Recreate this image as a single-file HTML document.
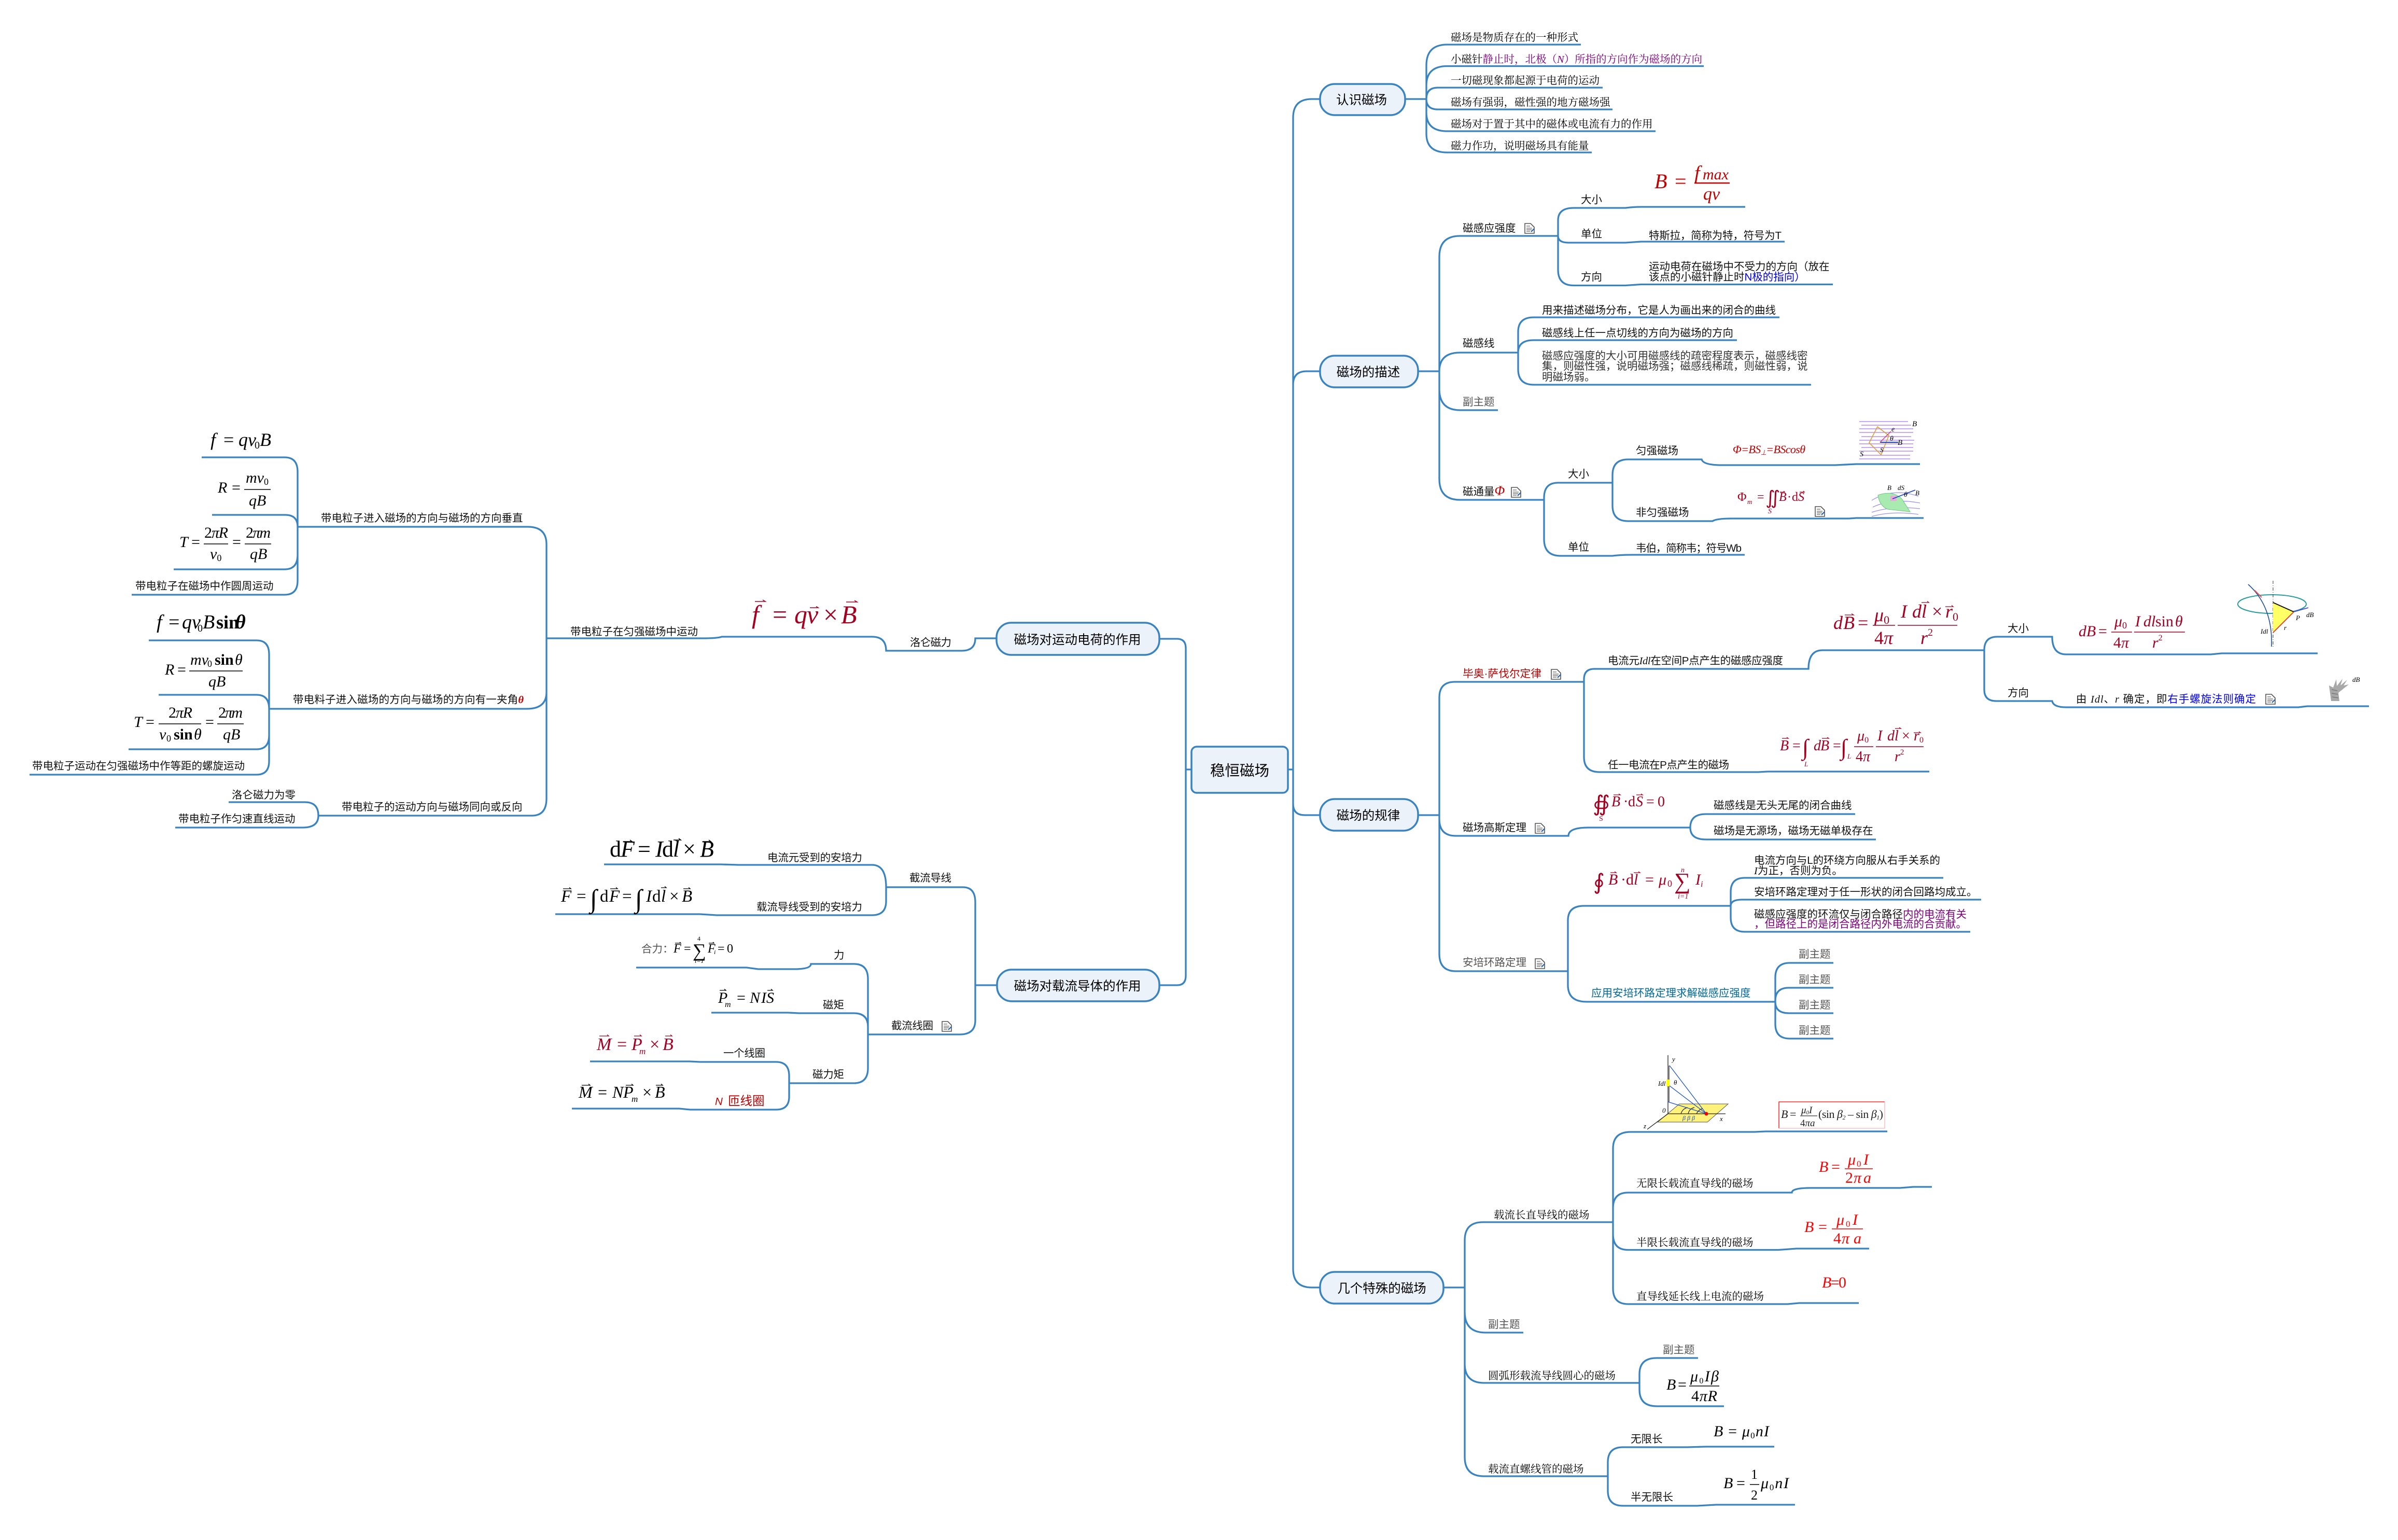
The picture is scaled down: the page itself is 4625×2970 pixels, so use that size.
<!DOCTYPE html>
<html lang="zh"><head><meta charset="utf-8"><title>稳恒磁场</title>
<style>
html,body{margin:0;padding:0;background:#fff}
svg{display:block}
.l{fill:none;stroke:#3a83c1;stroke-width:3.3}
.n{fill:#ebf2fa;stroke:#3a83c1;stroke-width:3.5}
text{font-family:"Liberation Sans","Noto Sans CJK SC",sans-serif;font-size:20.5px;fill:#111;transform:translateY(2px)}
.r{font-family:"Liberation Serif","Noto Serif CJK SC",serif;fill:#000}
.t{font-size:24.5px;fill:#000;text-anchor:middle;transform:translateY(1px)}
.g{fill:#555}
.f{font-family:"Liberation Serif",serif;font-style:italic;fill:#000;transform:none}
.c{fill:#a50021}.d{fill:#c00000}.e{fill:#f00}
.a{fill:none;stroke-width:1.3;stroke:#000}
.ac{fill:none;stroke-width:1.3;stroke:#a50021}
.fl{stroke:#000;stroke-width:1.5}.flc{stroke:#a50021;stroke-width:1.5}.fle{stroke:#f00;stroke-width:1.5}
</style></head><body>
<svg xmlns="http://www.w3.org/2000/svg" width="4625" height="2970" viewBox="0 0 4625 2970">
<defs>
<g id="ic"><path d="M1,1H12L19,8V20H1Z" fill="#fff" stroke="#555" stroke-width="1.6"/><path d="M4,6H11M4,10H15M4,13H14M4,16H11" stroke="#666" stroke-width="1.2"/><path d="M13,17L19,11" stroke="#2a5fb8" stroke-width="2.2"/></g>
</defs>
<rect width="4625" height="2970" fill="#fff"/>

<!-- connectors -->
<g class="l">
<path d="M2484,1484H2494M2546,191H2530Q2494,191 2494,227V2447Q2494,2483 2530,2483H2546M2494,742Q2494,716 2520,716H2546M2494,1550Q2494,1572 2516,1572H2546"/>
<path d="M2236,1232H2270Q2287,1232 2287,1250V1882Q2287,1900 2270,1900H2236M2298,1484H2287"/>
<path d="M2710,191H2751M2751,191V126Q2751,86 2791,86H3049M2751,191V165Q2751,127.5 2791,127.5H3286M2751,191Q2751,169 2773,169H3091M2751,191Q2751,211 2773,211H3110M2751,191V217Q2751,253 2791,253H3193M2751,191V258Q2751,294 2791,294H3070"/>
<path d="M2735,716H2776M2776,716V495Q2776,455 2816,455H3005M2776,716Q2776,680 2816,680H2928M2776,716V750Q2776,791 2816,791H2889M2776,716V924Q2776,964 2816,964H2978"/>
<path d="M3005,455V425Q3005,401 3035,401H3135Q3150,399 3165,399H3366M3005,455Q3005,468 3025,468H3135L3165,466H3442M3005,455V520Q3005,550.5 3035,550.5H3135L3165,548.5H3535"/>
<path d="M2928,680V640Q2928,612 2958,612H3432M2928,680Q2928,656 2958,656H3350M2928,680V712Q2928,742 2958,742H3493"/>
<path d="M2978,964V960Q2978,931 3005,931H3110M2978,964V1040Q2978,1072 3010,1072H3110Q3125,1070 3149,1070H3365"/>
<path d="M3110,931V916Q3110,886 3140,886H3282Q3285,897 3321,897H3540L3580,895H3703M3110,931V975Q3110,1005 3140,1005H3303Q3310,1000 3340,1000H3566L3580,999H3710"/>
<path d="M2735,1572H2776M2776,1572V1345Q2776,1315 2806,1315H3055M2776,1572V1580Q2776,1612 2808,1612H3025Q3025,1596 3063,1596H3260M2776,1572V1840Q2776,1873 2808,1873H3024"/>
<path d="M3055,1315V1310Q3055,1290 3075,1290H3488Q3488,1254 3515,1254H3827M3055,1315V1460Q3055,1489 3085,1489H3391L3410,1488H3721"/>
<path d="M3827,1254Q3827,1228 3852,1228H3958Q3958,1262 3985,1262H4264L4285,1260H4470M3827,1254V1330Q3827,1352 3850,1352H3958Q3960,1364 3985,1364H4433L4450,1362H4569"/>
<path d="M3260,1596Q3260,1570 3290,1570H3578M3260,1596Q3260,1619 3290,1619H3618"/>
<path d="M3024,1873V1775Q3024,1747 3055,1747H3337M3024,1873V1900Q3024,1932 3060,1932H3424"/>
<path d="M3338,1747V1720Q3338,1693 3365,1693H3748M3338,1747Q3338,1735 3360,1735H3821M3338,1747V1770Q3338,1797 3365,1797H3800"/>
<path d="M3424,1932V1885Q3424,1857 3452,1857H3536M3424,1932V1930Q3424,1905 3450,1905H3536M3424,1932Q3424,1954 3450,1954H3536M3424,1932V1975Q3424,2003 3452,2003H3536"/>
<path d="M2784,2483H2825M2825,2483V2392Q2825,2357 2860,2357H3111M2825,2483V2530Q2825,2570 2865,2570H2938M2825,2483V2630Q2825,2667 2862,2667H3162M2825,2483V2810Q2825,2847 2862,2847H3101"/>
<path d="M3111,2357V2215Q3111,2183 3145,2183H3384L3405,2182H3640M3111,2357V2330Q3111,2300 3140,2300H3456Q3456,2291 3493,2291H3665L3690,2289H3726M3111,2357V2380Q3111,2410.5 3140,2410.5H3430L3465,2408H3605M3111,2357V2485Q3111,2515 3140,2515H3448L3470,2513H3585"/>
<path d="M3162,2667V2650Q3162,2619 3195,2619H3275M3162,2667V2680Q3162,2712 3195,2712H3325"/>
<path d="M3101,2847V2820Q3101,2791 3130,2791H3254L3290,2790H3422M3101,2847V2875Q3101,2904 3130,2904H3273L3310,2902H3462"/>
<path d="M1922,1231H1881Q1881,1255 1855,1255H1709Q1709,1228 1682,1228H1392Q1385,1231 1354,1231H1054"/>
<path d="M1054,1231V1050Q1054,1016 1018,1016H574M1054,1231V1335Q1054,1367 1016,1367H520M1054,1231V1540Q1054,1573 1026,1573H614"/>
<path d="M574,1016V910Q574,882 549,882H389M574,1016Q574,993 550,993H409M574,1016V1070Q574,1098 549,1098H335M574,1016V1120Q574,1147 549,1147H254"/>
<path d="M519,1367V1262Q519,1235 495,1235H287M519,1367Q519,1340 495,1340H306M519,1367V1418Q519,1445 495,1445H248M519,1367V1468Q519,1494 495,1494H57"/>
<path d="M614,1573Q614,1547 588,1547H441M614,1573Q614,1596 584,1596H338"/>
<path d="M1923,1900H1881M1881,1900V1740Q1881,1711 1857,1711H1709M1881,1900V1968Q1881,1995 1851,1995H1674"/>
<path d="M1709,1711Q1709,1668 1682,1668H1424L1390,1667H1165M1709,1711V1738Q1709,1765 1682,1765H1382L1350,1763H1071"/>
<path d="M1674,1995V1888Q1674,1859 1647,1859H1564Q1564,1869 1532,1869H1462L1440,1866H1227M1674,1995V1980Q1674,1954 1647,1954H1541L1520,1953H1372M1674,1995V2060Q1674,2089 1647,2089H1522"/>
<path d="M1522,2089V2075Q1522,2048 1497,2048H1350L1330,2047H1138M1522,2089V2115Q1522,2140 1497,2140H1331L1310,2138H1103"/>
</g>

<!-- nodes -->
<rect class="n" x="2298" y="1440" width="186" height="89" rx="10"/>
<rect class="n" x="2546" y="162" width="164" height="60" rx="28"/>
<rect class="n" x="2546" y="686" width="189" height="61" rx="28"/>
<rect class="n" x="2546" y="1541" width="189" height="61" rx="28"/>
<rect class="n" x="2546" y="2453" width="238" height="61" rx="28"/>
<rect class="n" x="1922" y="1201" width="314" height="62" rx="28"/>
<rect class="n" x="1923" y="1870" width="313" height="61" rx="28"/>
<text class="t" x="2391" y="1495" style="font-size:28.5px">稳恒磁场</text>
<text class="t" x="2626" y="200">认识磁场</text>
<text class="t" x="2639" y="725">磁场的描述</text>
<text class="t" x="2639" y="1580">磁场的规律</text>
<text class="t" x="2665" y="2492">几个特殊的磁场</text>
<text class="t" x="2078" y="1241">磁场对运动电荷的作用</text>
<text class="t" x="2078" y="1909">磁场对载流导体的作用</text>

<!-- 认识磁场 leaves -->
<text class="r" x="2798" y="77">磁场是物质存在的一种形式</text>
<text class="r" x="2798" y="119">小磁针<tspan fill="#800080">静止时，北极（</tspan><tspan fill="#800080" font-style="italic">N</tspan><tspan fill="#800080">）所指的方向作为磁场的方向</tspan></text>
<text class="r" x="2798" y="160">一切磁现象都起源于电荷的运动</text>
<text class="r" x="2798" y="202">磁场有强弱，磁性强的地方磁场强</text>
<text class="r" x="2798" y="244">磁场对于置于其中的磁体或电流有力的作用</text>
<text class="r" x="2798" y="286">磁力作功，说明磁场具有能量</text>

<!-- 描述 -->
<text x="2821" y="445">磁感应强度</text><use href="#ic" x="2940" y="430"/>
<text x="3049" y="390">大小</text><text x="3049" y="456">单位</text><text x="3049" y="539">方向</text>
<text x="3180" y="459" textLength="256">特斯拉，简称为特，符号为T</text>
<text x="3180" y="519">运动电荷在磁场中不受力的方向（放在</text>
<text x="3180" y="539">该点的小磁针静止时<tspan fill="#0000ff">N极的指向）</tspan></text>
<text class="f d" x="3191" y="363" style="font-size:40px">B<tspan x="3230" font-style="normal">=</tspan></text>
<text class="f d" x="3268" y="346" style="font-size:38px">f<tspan x="3284" font-size="30">max</tspan></text>
<text class="f d" x="3285" y="385" style="font-size:34px">qv</text>
<path d="M3268,353H3336" stroke="#c00000" stroke-width="2.5"/>
<text x="2821" y="667">磁感线</text>
<text x="2974" y="603">用来描述磁场分布，它是人为画出来的闭合的曲线</text>
<text x="2974" y="647">磁感线上任一点切线的方向为磁场的方向</text>
<text x="2974" y="691" style="fill:#333">磁感应强度的大小可用磁感线的疏密程度表示，磁感线密</text>
<text x="2974" y="711" style="fill:#333">集，则磁性强，说明磁场强；磁感线稀疏，则磁性弱，说</text>
<text x="2974" y="732" style="fill:#333">明磁场弱。</text>
<text class="g" x="2821" y="780">副主题</text>
<text x="2821" y="953">磁通量<tspan class="d" font-style="italic" font-family="Liberation Serif" font-size="26">Φ</tspan></text><use href="#ic" x="2914" y="939"/>
<text x="3024" y="919">大小</text><text x="3024" y="1060">单位</text>
<text x="3155" y="874">匀强磁场</text><text x="3155" y="993">非匀强磁场</text>
<text x="3155" y="1062" textLength="204">韦伯，简称韦；符号Wb</text>
<text class="f d" x="3342" y="874" style="font-size:22px" textLength="140">Φ=BS<tspan font-size="13" dy="3">⊥</tspan><tspan dy="-3">=BScosθ</tspan></text>
<text class="f c" x="3351" y="966" style="font-size:24px;font-style:normal">Φ<tspan x="3370" dy="6" font-size="13" font-style="italic">m</tspan><tspan x="3389" dy="-6">=</tspan></text>
<text class="f c" x="3405" y="972" style="font-size:36px;font-style:normal">∬</text>
<text class="f c" x="3431" y="966" style="font-size:24px">B<tspan x="3447" font-style="normal">·</tspan><tspan x="3456" font-style="normal">d</tspan><tspan x="3468">S</tspan></text>
<path class="ac" d="M3433,949h9l-2,-2M3471,949h9l-2,-2"/>
<text class="f c" x="3410" y="990" style="font-size:14px">S</text>
<use href="#ic" x="3500" y="976"/>
<!-- image uniform -->
<g stroke="#b48cff" stroke-width="1.6" fill="none"><path d="M3586,813H3680M3590,820H3686M3586,827H3690M3586,834H3690M3590,842H3686M3586,849H3692M3586,856H3690M3590,863H3690M3586,870H3690M3590,878H3684M3586,885H3684"/></g>
<path d="M3621,823L3643,840L3628,877L3605,854Z" fill="none" stroke="#e09a20" stroke-width="1.5"/>
<path d="M3626,853H3661" stroke="#1a3fd0" stroke-width="2"/><path d="M3626,853L3647,832" stroke="#e0306a" stroke-width="1.3"/>
<text class="f" x="3688" y="822" style="font-size:15px">B</text><text class="f" x="3648" y="832" style="font-size:14px">e</text><text class="f" x="3645" y="850" style="font-size:14px">θ</text><text class="f" x="3660" y="858" style="font-size:15px">B</text><text class="f" x="3626" y="872" style="font-size:13px">S</text><text class="f" x="3587" y="880" style="font-size:14px">S</text>
<!-- image curved -->
<g fill="none" stroke="#9a90f0" stroke-width="1.3"><path d="M3610,965Q3650,940 3700,957M3612,978Q3650,960 3703,970M3610,988Q3650,975 3703,981M3610,996Q3650,985 3700,992"/></g>
<path d="M3622,955Q3650,945 3668,962L3684,987L3640,982Q3625,975 3622,955Z" fill="#a8eab0" stroke="#6cc97c"/>
<rect x="3646" y="956" width="12" height="10" fill="#e8a8d8"/>
<path d="M3650,962L3694,945" stroke="#1a3fd0" stroke-width="1.6"/>
<text class="f" x="3640" y="945" style="font-size:13px">B</text><text class="f" x="3660" y="945" style="font-size:13px">dS</text><text class="f" x="3672" y="958" style="font-size:14px">θ</text><text class="f" x="3694" y="955" style="font-size:13px">B</text>

<!-- 规律 -->
<text class="d" x="2821" y="1304" textLength="152" lengthAdjust="spacingAndGlyphs">毕奥·萨伐尔定律</text><use href="#ic" x="2991" y="1290"/>
<text x="3101" y="1279" textLength="338" lengthAdjust="spacing">电流元<tspan font-style="italic" font-family="Liberation Serif">Idl</tspan>在空间P点产生的磁感应强度</text>
<text x="3101" y="1480" textLength="234">任一电流在P点产生的磁场</text>
<text x="3872" y="1217">大小</text><text x="3872" y="1341">方向</text>
<text x="4004" y="1353" textLength="347">由 <tspan font-style="italic" font-family="Liberation Serif">Idl</tspan>、<tspan font-style="italic" font-family="Liberation Serif">r</tspan> 确定，即<tspan fill="#0000ff">右手螺旋法则确定</tspan></text><use href="#ic" x="4369" y="1338"/>
<!-- dB big -->
<text class="f c" x="3536" y="1213" style="font-size:36px">d<tspan x="3555">B</tspan><tspan x="3583" font-style="normal">=</tspan></text>
<path class="ac" d="M3558,1186h17l-4,-2.5M3706,1162h14l-3,-2.5M3752,1170h15l-3,-2.5"/>
<path class="flc" d="M3612,1206H3655M3660,1206H3775"/>
<text class="f c" x="3615" y="1198" style="font-size:36px">μ<tspan font-size="22" dy="5" font-style="normal">0</tspan></text>
<text class="f c" x="3666" y="1191" style="font-size:36px">I<tspan x="3688">d</tspan><tspan x="3706">l</tspan><tspan x="3726" font-style="normal">×</tspan><tspan x="3752">r</tspan><tspan x="3766" font-size="22" dy="6" font-style="normal">0</tspan></text>
<text class="f c" x="3615" y="1242" style="font-size:36px"><tspan font-style="normal">4</tspan>π</text><text class="f c" x="3704" y="1242" style="font-size:36px">r<tspan font-size="20" dy="-16" font-style="normal">2</tspan></text>
<!-- dB small -->
<text class="f c" x="4009" y="1227" style="font-size:30px">d<tspan x="4024">B</tspan><tspan x="4047" font-style="normal">=</tspan></text>
<path class="flc" d="M4072,1219H4112M4116,1219H4214"/>
<text class="f c" x="4078" y="1208" style="font-size:30px">μ<tspan font-size="18" dy="4" font-style="normal">0</tspan></text>
<text class="f c" x="4118" y="1208" style="font-size:30px">I<tspan x="4134">d</tspan><tspan x="4149">l</tspan><tspan x="4157" font-style="normal">sin</tspan><tspan x="4195">θ</tspan></text>
<text class="f c" x="4076" y="1249" style="font-size:30px"><tspan font-style="normal">4</tspan>π</text><text class="f c" x="4151" y="1249" style="font-size:30px">r<tspan font-size="16" dy="-14" font-style="normal">2</tspan></text>
<!-- image biot -->
<ellipse cx="4382" cy="1165" rx="66" ry="18" fill="none" stroke="#2a9d9d" stroke-width="2"/>
<path d="M4384,1120V1250" stroke="#333" stroke-dasharray="6 3 1 3" stroke-width="1"/>
<path d="M4384,1162L4424,1180L4384,1220Z" fill="#ff6"/>
<path d="M4384,1162L4424,1180" stroke="#111" stroke-width="2"/><path d="M4424,1180L4384,1220" stroke="#e03030" stroke-width="1.6"/>
<path d="M4336,1127Q4384,1170 4381,1247" fill="none" stroke="#1d4f9c" stroke-width="1.6"/>
<path d="M4348,1138L4362,1152" stroke="#f05050" stroke-width="2"/>
<path d="M4424,1180L4452,1172" stroke="#3a3ae0" stroke-width="1.6"/>
<text class="f" x="4448" y="1190" style="font-size:13px">dB</text><text class="f" x="4360" y="1222" style="font-size:13px">Idl</text><text class="f" x="4405" y="1215" style="font-size:13px">r</text><text class="f" x="4428" y="1196" style="font-size:13px">P</text>
<!-- hand -->
<path d="M4492,1322L4496,1352H4512L4510,1336L4530,1320L4520,1322L4527,1311L4514,1322L4518,1309L4507,1323L4506,1310L4500,1326Z" fill="#a8a8a8"/>
<path d="M4497,1330L4508,1332M4497,1337L4509,1339M4498,1344L4510,1346" stroke="#666" stroke-width="1"/>
<text class="f" x="4537" y="1315" style="font-size:13px">dB</text>
<!-- integral -->
<text class="f c" x="3433" y="1447" style="font-size:28px">B<tspan x="3457" font-style="normal">=</tspan></text>
<text class="f c" x="3476" y="1456" style="font-size:44px;font-style:normal">∫</text>
<text class="f c" x="3498" y="1447" style="font-size:28px">d<tspan x="3511">B</tspan><tspan x="3535" font-style="normal">=</tspan></text>
<text class="f c" x="3480" y="1478" style="font-size:13px">L</text>
<text class="f c" x="3550" y="1456" style="font-size:44px;font-style:normal">∫</text><text class="f c" x="3563" y="1463" style="font-size:13px">L</text>
<path class="ac" d="M3437,1424h12l-3,-2M3514,1424h13l-3,-2M3655,1405h11l-3,-2M3691,1413h13l-3,-2"/>
<path class="flc" d="M3576,1440H3613M3618,1440H3710"/>
<text class="f c" x="3582" y="1428" style="font-size:28px">μ<tspan font-size="16" dy="4" font-style="normal">0</tspan></text>
<text class="f c" x="3621" y="1428" style="font-size:28px">I<tspan x="3640">d</tspan><tspan x="3654">l</tspan><tspan x="3668" font-style="normal">×</tspan><tspan x="3691">r</tspan><tspan x="3702" font-size="16" dy="4" font-style="normal">0</tspan></text>
<text class="f c" x="3579" y="1468" style="font-size:28px"><tspan font-style="normal">4</tspan>π</text><text class="f c" x="3654" y="1468" style="font-size:28px">r<tspan font-size="15" dy="-13" font-style="normal">2</tspan></text>
<text x="2821" y="1601">磁场高斯定理</text><use href="#ic" x="2960" y="1587"/>
<text x="3305" y="1558">磁感线是无头无尾的闭合曲线</text>
<text x="3305" y="1607">磁场是无源场，磁场无磁单极存在</text>
<text class="f c" x="3072" y="1564" style="font-size:42px;font-style:normal">∯</text>
<text class="f c" x="3108" y="1555" style="font-size:28px">B<tspan x="3131" font-style="normal">·</tspan><tspan x="3140" font-style="normal">d</tspan><tspan x="3155">S</tspan><tspan x="3175" font-style="normal">=</tspan><tspan x="3197" font-style="normal">0</tspan></text>
<path class="ac" d="M3112,1533h13l-3,-2M3156,1533h12l-3,-2"/>
<text class="f c" x="3084" y="1583" style="font-size:14px;font-style:normal">S</text>
<text class="g" x="2821" y="1861">安培环路定理</text><use href="#ic" x="2960" y="1848"/>
<text x="3383" y="1664" textLength="359">电流方向与L的环绕方向服从右手关系的</text>
<text x="3383" y="1684"><tspan font-style="italic" font-family="Liberation Serif">I</tspan>为正，否则为负。</text>
<text x="3383" y="1725">安培环路定理对于任一形状的闭合回路均成立。</text>
<text x="3383" y="1768">磁感应强度的环流仅与闭合路径<tspan fill="#800080">内的电流有关</tspan></text>
<text x="3383" y="1787" style="fill:#800080">，但路径上的是闭合路径内外电流的合贡献。</text>
<text class="f c" x="3073" y="1715" style="font-size:42px;font-style:normal">∮</text>
<text class="f c" x="3102" y="1706" style="font-size:30px">B<tspan x="3126" font-style="normal">·</tspan><tspan x="3136" font-style="normal">d</tspan><tspan x="3151">l</tspan><tspan x="3173" font-style="normal">=</tspan><tspan x="3199">μ</tspan><tspan x="3216" font-size="18" dy="4" font-style="normal">0</tspan></text>
<path class="ac" d="M3106,1683h11l-3,-2M3151,1683h12l-3,-2"/>
<text class="f c" x="3229" y="1714" style="font-size:44px;font-style:normal">∑</text>
<text class="f c" x="3270" y="1706" style="font-size:30px">I<tspan font-size="16" dy="4">i</tspan></text>
<text class="f c" x="3242" y="1682" style="font-size:14px">n</text><text class="f c" x="3236" y="1733" style="font-size:14px">i=1</text>
<text x="3069" y="1920" style="fill:#006a9e">应用安培环路定理求解磁感应强度</text>
<text class="g" x="3469" y="1845">副主题</text><text class="g" x="3469" y="1894">副主题</text><text class="g" x="3469" y="1943">副主题</text><text class="g" x="3469" y="1992">副主题</text>

<!-- 几个特殊的磁场 -->
<text class="r" x="2881" y="2348">载流长直导线的磁场</text>
<text class="r" x="3156" y="2287">无限长载流直导线的磁场</text>
<text class="r" x="3156" y="2401">半限长载流直导线的磁场</text>
<text class="r" x="3156" y="2505">直导线延长线上电流的磁场</text>
<text class="g" x="2870" y="2559">副主题</text>
<text class="r" x="2870" y="2658">圆弧形载流导线圆心的磁场</text>
<text class="g" x="3207" y="2608">副主题</text>
<text class="r" x="2870" y="2838">载流直螺线管的磁场</text>
<text x="3145" y="2780">无限长</text><text x="3145" y="2892">半无限长</text>
<!-- image straight wire -->
<path d="M3239,2129H3333L3293,2164H3197Z" fill="#fff27a" stroke="#555" stroke-width="1"/>
<path d="M3217,2035V2148M3217,2148H3328M3217,2148L3177,2178" stroke="#222" stroke-width="1.3" fill="none"/>
<path d="M3242,2148Q3245,2138 3255,2136M3256,2148Q3258,2138 3268,2136M3272,2148Q3276,2140 3284,2138" fill="none" stroke="#222" stroke-width="1.2"/>
<rect x="3216" y="2055" width="4" height="70" fill="#777"/><rect x="3214" y="2082" width="6" height="13" fill="#ff0"/>
<path d="M3220,2055L3291,2148M3220,2094L3291,2148M3217,2125L3291,2148" stroke="#1a50d0" stroke-width="1.3" fill="none"/>
<circle cx="3291" cy="2148" r="3.5" fill="#e00"/>
<text class="f" x="3225" y="2047" style="font-size:13px">y</text><text class="f" x="3317" y="2162" style="font-size:13px">x</text><text class="f" x="3170" y="2176" style="font-size:13px">z</text><text class="f" x="3206" y="2146" style="font-size:13px">0</text><text class="f" x="3198" y="2094" style="font-size:13px">Idl</text><text class="f" x="3228" y="2092" style="font-size:13px">θ</text><text class="f" x="3245" y="2160" style="font-size:12px;fill:#1a50d0">β β β</text>
<!-- box -->
<path d="M3431,2176V2125H3635" fill="none" stroke="#f00" stroke-width="1.3"/><path d="M3635,2125V2176H3431" fill="none" stroke="#ffb0b8" stroke-width="1.3"/>
<text class="f" x="3435" y="2156" style="font-size:22px;fill:#222">B<tspan x="3452" font-style="normal">=</tspan></text>
<path d="M3472,2152H3505" stroke="#333" stroke-width="1.2"/>
<text class="f" x="3474" y="2147" style="font-size:19px;fill:#222">μ<tspan font-size="11" dy="2">0</tspan><tspan dy="-2">I</tspan></text>
<text class="f" x="3472" y="2172" style="font-size:19px;fill:#222"><tspan font-style="normal">4</tspan>πa</text>
<text class="f" x="3507" y="2156" style="font-size:22px;fill:#222" textLength="125"><tspan font-style="normal">(sin</tspan> β<tspan font-size="12" dy="3">2</tspan><tspan font-style="normal" dy="-3"> – sin</tspan> β<tspan font-size="12" dy="3">1</tspan><tspan font-style="normal" dy="-3">)</tspan></text>
<!-- red formulas -->
<text class="f e" x="3508" y="2260" style="font-size:30px">B<tspan x="3532" font-style="normal">=</tspan></text>
<path class="fle" d="M3558,2254H3612"/>
<text class="f e" x="3564" y="2246" style="font-size:30px">μ<tspan x="3581" font-size="17" dy="4" font-style="normal">0</tspan><tspan x="3594" dy="-4">I</tspan></text>
<text class="f e" x="3559" y="2281" style="font-size:30px"><tspan font-style="normal">2</tspan><tspan x="3575">π</tspan><tspan x="3594">a</tspan></text>
<text class="f e" x="3480" y="2376" style="font-size:30px">B<tspan x="3507" font-style="normal">=</tspan></text>
<path class="fle" d="M3533,2370H3593"/>
<text class="f e" x="3542" y="2362" style="font-size:30px">μ<tspan x="3560" font-size="17" dy="4" font-style="normal">0</tspan><tspan x="3573" dy="-4">I</tspan></text>
<text class="f e" x="3536" y="2398" style="font-size:30px"><tspan font-style="normal">4</tspan><tspan x="3552">π</tspan><tspan x="3575">a</tspan></text>
<text class="f e" x="3514" y="2483" style="font-size:30px" textLength="47">B<tspan font-style="normal">=0</tspan></text>
<!-- circular arc -->
<text class="f" x="3214" y="2680" style="font-size:30px">B<tspan x="3236" font-style="normal">=</tspan></text>
<path class="fl" d="M3258,2673H3316"/>
<text class="f" x="3260" y="2664" style="font-size:30px" textLength="55">μ<tspan font-size="16" dy="4" font-style="normal">0</tspan><tspan dy="-4">Iβ</tspan></text>
<text class="f" x="3262" y="2702" style="font-size:30px" textLength="50"><tspan font-style="normal">4</tspan>πR</text>
<text class="f" x="3305" y="2770" style="font-size:30px" textLength="107">B <tspan font-style="normal">=</tspan> μ<tspan font-size="17" dy="4" font-style="normal">0</tspan><tspan dy="-4">nI</tspan></text>
<text class="f" x="3324" y="2870" style="font-size:30px">B<tspan x="3349" font-style="normal">=</tspan></text>
<path class="fl" d="M3375,2863H3393"/>
<text class="f" x="3377" y="2852" style="font-size:26px;font-style:normal">1</text><text class="f" x="3377" y="2892" style="font-size:26px;font-style:normal">2</text>
<text class="f" x="3396" y="2870" style="font-size:30px" textLength="54">μ<tspan font-size="17" dy="4" font-style="normal">0</tspan><tspan dy="-4">nI</tspan></text>

<!-- left: 运动电荷 -->
<text x="1755" y="1244" textLength="80">洛仑磁力</text>
<text x="1100" y="1223" textLength="246">带电粒子在匀强磁场中运动</text>
<text class="f c" x="1450" y="1202" style="font-size:50px">f<tspan x="1490" font-style="normal">=</tspan><tspan x="1532">q</tspan><tspan x="1556">v</tspan><tspan x="1588" font-style="normal">×</tspan><tspan x="1622">B</tspan></text>
<path class="ac" style="stroke-width:1.6" d="M1456,1160h20l-5,-3M1562,1172h16l-4,-2.5M1632,1161h21l-5,-3"/>
<text x="619" y="1004">带电粒子进入磁场的方向与磁场的方向垂直</text>
<text x="261" y="1135">带电粒子在磁场中作圆周运动</text>
<text class="f" x="406" y="860" style="font-size:36px">f<tspan x="431" font-style="normal">=</tspan><tspan x="460">q</tspan><tspan x="478">v</tspan><tspan x="491" font-size="20" dy="5" font-style="normal">0</tspan><tspan x="501" dy="-5">B</tspan></text>
<text class="f" x="420" y="950" style="font-size:30px">R<tspan x="447" font-style="normal">=</tspan></text>
<path class="fl" d="M471,944H522"/>
<text class="f" x="474" y="931" style="font-size:30px">mv<tspan font-size="18" dy="4" font-style="normal">0</tspan></text>
<text class="f" x="480" y="975" style="font-size:30px">qB</text>
<text class="f" x="346" y="1055" style="font-size:30px">T<tspan x="369" font-style="normal">=</tspan></text>
<path class="fl" d="M393,1049H440M472,1049H523"/>
<text class="f" x="394" y="1037" style="font-size:30px" textLength="46"><tspan font-style="normal">2</tspan>πR</text>
<text class="f" x="405" y="1078" style="font-size:30px">v<tspan font-size="18" dy="4" font-style="normal">0</tspan></text>
<text class="f" x="448" y="1055" style="font-size:30px;font-style:normal">=</text>
<text class="f" x="474" y="1037" style="font-size:30px" textLength="48"><tspan font-style="normal">2</tspan>πm</text>
<text class="f" x="482" y="1078" style="font-size:30px">qB</text>
<text x="565" y="1354" textLength="445">带电料子进入磁场的方向与磁场的方向有一夹角<tspan class="d" font-style="italic" font-weight="bold" font-family="Liberation Serif">θ</tspan></text>
<text x="62" y="1482">带电粒子运动在匀强磁场中作等距的螺旋运动</text>
<text class="f" x="302" y="1212" style="font-size:38px">f<tspan x="325" font-style="normal">=</tspan><tspan x="351">q</tspan><tspan x="370">v</tspan><tspan x="381" font-size="20" dy="6" font-style="normal">0</tspan><tspan x="391" dy="-6">B</tspan><tspan x="417" font-weight="bold" font-style="normal" font-size="36">sin</tspan><tspan x="454" font-weight="bold">θ</tspan></text>
<text class="f" x="318" y="1301" style="font-size:30px">R<tspan x="342" font-style="normal">=</tspan></text>
<path class="fl" d="M365,1294H468"/>
<text class="f" x="367" y="1282" style="font-size:30px">mv<tspan x="400" font-size="18" dy="4" font-style="normal">0</tspan><tspan x="414" dy="-4" font-style="normal" font-weight="bold">sin</tspan><tspan x="453">θ</tspan></text>
<text class="f" x="402" y="1324" style="font-size:30px">qB</text>
<text class="f" x="258" y="1402" style="font-size:30px">T<tspan x="281" font-style="normal">=</tspan></text>
<path class="fl" d="M306,1396H388M419,1396H470"/>
<text class="f" x="325" y="1384" style="font-size:30px" textLength="46"><tspan font-style="normal">2</tspan>πR</text>
<text class="f" x="307" y="1426" style="font-size:30px">v<tspan x="321" font-size="18" dy="4" font-style="normal">0</tspan><tspan x="335" dy="-4" font-style="normal" font-weight="bold">sin</tspan><tspan x="374">θ</tspan></text>
<text class="f" x="396" y="1402" style="font-size:30px;font-style:normal">=</text>
<text class="f" x="421" y="1384" style="font-size:30px" textLength="47"><tspan font-style="normal">2</tspan>πm</text>
<text class="f" x="430" y="1426" style="font-size:30px">qB</text>
<text x="447" y="1538" style="fill:#111">洛仑磁力为零</text>
<text x="344" y="1584">带电粒子作匀速直线运动</text>
<text x="659" y="1561">带电粒子的运动方向与磁场同向或反向</text>

<!-- left: 载流导体 -->
<text x="1754" y="1698" textLength="81">截流导线</text>
<text x="1480" y="1659" textLength="183">电流元受到的安培力</text>
<text x="1459" y="1754" textLength="204">载流导线受到的安培力</text>
<text class="f" x="1176" y="1652" style="font-size:44px"><tspan font-style="normal">d</tspan><tspan x="1197">F</tspan><tspan x="1230" font-style="normal">=</tspan><tspan x="1264">I</tspan><tspan x="1277" font-style="normal">d</tspan><tspan x="1298">l</tspan><tspan x="1317" font-style="normal">×</tspan><tspan x="1350">B</tspan></text>
<path class="a" style="stroke-width:1.5" d="M1202,1623h17l-4,-3M1299,1620h14l-4,-3M1355,1623h16l-4,-3"/>
<text class="f" x="1082" y="1739" style="font-size:33px">F<tspan x="1112" font-style="normal">=</tspan></text>
<text class="f" x="1138" y="1750" style="font-size:50px;font-style:normal">∫</text>
<text class="f" x="1157" y="1739" style="font-size:33px"><tspan font-style="normal">d</tspan><tspan x="1175">F</tspan><tspan x="1200" font-style="normal">=</tspan></text>
<text class="f" x="1225" y="1750" style="font-size:50px;font-style:normal">∫</text>
<text class="f" x="1246" y="1739" style="font-size:33px">I<tspan x="1258" font-style="normal">d</tspan><tspan x="1275">l</tspan><tspan x="1291" font-style="normal">×</tspan><tspan x="1315">B</tspan></text>
<path class="a" d="M1086,1714h15l-3,-2.5M1177,1714h14l-3,-2.5M1275,1712h10l-3,-2.5M1318,1714h13l-3,-2.5"/>
<text x="1719" y="1983" textLength="81">截流线圈</text><use href="#ic" x="1816" y="1969"/>
<text x="1608" y="1847">力</text>
<text class="g" x="1237" y="1835">合力：</text>
<text class="f" x="1299" y="1837" style="font-size:24px">F<tspan x="1319" font-style="normal">=</tspan></text>
<text class="f" x="1336" y="1845" style="font-size:36px;font-style:normal">∑</text>
<text class="f" x="1365" y="1837" style="font-size:24px">F<tspan x="1377" font-size="12" dy="3">i</tspan><tspan x="1384" dy="-3" font-style="normal">=</tspan><tspan x="1402" font-style="normal">0</tspan></text>
<path class="a" d="M1302,1819h11l-2,-2M1367,1819h10l-2,-2"/>
<text class="f" x="1345" y="1814" style="font-size:12px;font-style:normal">4</text><text class="f" x="1340" y="1857" style="font-size:12px">i=1</text>
<text x="1587" y="1943">磁矩</text>
<text class="f" x="1385" y="1934" style="font-size:30px">P<tspan x="1398" font-size="16" dy="8">m</tspan><tspan x="1421" dy="-8" font-style="normal">=</tspan><tspan x="1446">N</tspan><tspan x="1468">I</tspan><tspan x="1478">S</tspan></text>
<path class="a" d="M1388,1910h12l-3,-2.5M1480,1910h10l-3,-2.5"/>
<text x="1567" y="2077" textLength="61">磁力矩</text>
<text x="1395" y="2036" textLength="81">一个线圈</text>
<text class="f c" x="1151" y="2025" style="font-size:34px">M<tspan x="1190" font-style="normal">=</tspan><tspan x="1218">P</tspan><tspan x="1233" font-size="17" dy="8">m</tspan><tspan x="1253" dy="-8" font-style="normal">×</tspan><tspan x="1278">B</tspan></text>
<path class="ac" d="M1156,1998h18l-3,-2.5M1223,1998h14l-3,-2.5M1283,1998h13l-3,-2.5"/>
<text class="d" x="1379" y="2129"><tspan font-style="italic">N</tspan><tspan x="1404" font-size="23.5">匝线圈</tspan></text>
<text class="f" x="1116" y="2117" style="font-size:32px">M<tspan x="1153" font-style="normal">=</tspan><tspan x="1181">N</tspan><tspan x="1202">P</tspan><tspan x="1218" font-size="17" dy="8">m</tspan><tspan x="1239" dy="-8" font-style="normal">×</tspan><tspan x="1263">B</tspan></text>
<path class="a" d="M1122,2093h16l-3,-2.5M1207,2093h14l-3,-2.5M1265,2093h13l-3,-2.5"/>
</svg>
</body></html>
